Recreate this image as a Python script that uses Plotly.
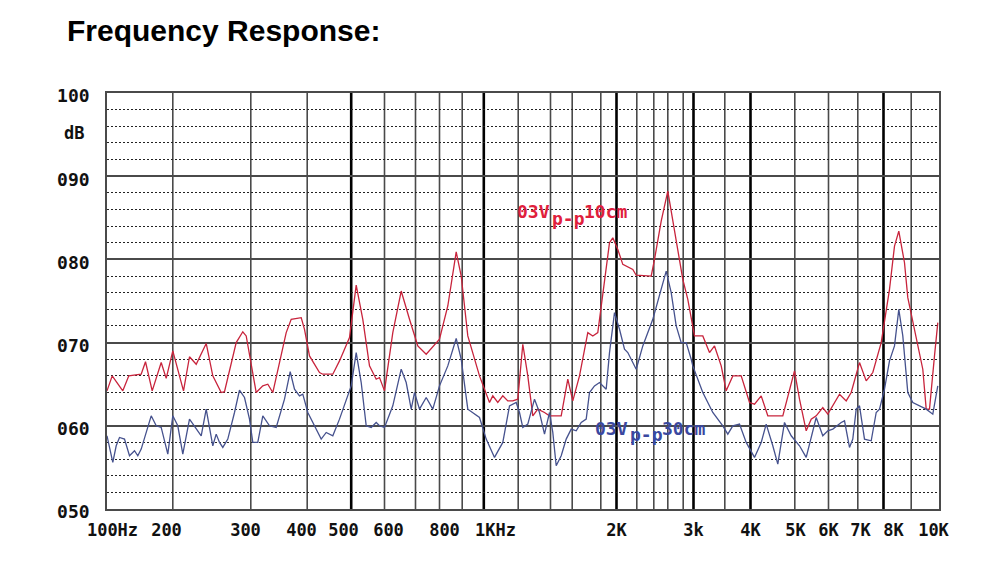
import plotly.graph_objects as go

# ---------------- data ----------------
# x positions are in the chart's own (non-uniform) frequency-scale units: 0 = 100 Hz edge, 832 = 10 kHz edge
title_text = "Frequency Response:"

y_tick_vals = [50, 60, 70, 80, 90, 100]
y_tick_text = ["050", "060", "070", "080", "090", "100"]

x_label_pos = [5.5, 59.5, 138.5, 194.5, 236.5, 281.5, 337.5, 388.5,
               509.5, 586.5, 643.5, 688.5, 721.5, 753.5, 786.5, 826.5]
x_label_text = ["100Hz", "200", "300", "400", "500", "600", "800", "1KHz",
                "2K", "3k", "4K", "5K", "6K", "7K", "8K", "10K"]

grid_thin = [65.8, 143.8, 200.2, 277.5, 308.5, 332.5, 355.2, 411.2, 443.5,
             465.2, 493.8, 529.8, 546.8, 560.8, 576.2, 617.8, 687.8, 721.5,
             750.8, 804.2]
grid_thick = [244.2, 376.8, 509.5, 586.5, 643.5, 776.5]

red_name = "03Vp-p 10cm"
red_x = [0, 5.2, 15.8, 21.8, 34.2, 38.5, 45.2, 54.2, 59.2, 65.8, 76.5, 82.5, 89.2,
         99.2, 105.8, 114.2, 117.5, 129.2, 135.8, 139.2, 149.2, 155.8, 160.8, 165.8,
         179.2, 184.2, 194.2, 197.5, 202.5, 212.5, 215.8, 225.8, 232.5, 242.5, 249.2,
         255.8, 262.5, 269.2, 272.5, 277.5, 285.8, 294.2, 302.5, 310.8, 319.2, 332.5,
         340.8, 349.2, 354.2, 360.8, 372.5, 379.2, 382.5, 385.8, 390.8, 395.8, 400.8,
         405.8, 410.8, 415.8, 420.8, 425.8, 430.8, 437.5, 442.5, 454.2, 460.8, 465.8,
         472.5, 480.8, 485.8, 490.8, 495.8, 502.5, 505.8, 510.8, 515.8, 525.8, 529.2,
         544.2, 547.5, 554.2, 560.8, 567.5, 569.2, 575.8, 580.8, 585.8, 587.5, 595.8,
         602.5, 607.5, 614.2, 619.2, 625.8, 634.2, 642.5, 647.5, 654.2, 660.8, 675.8,
         687.5, 692.5, 699.2, 704.2, 709.2, 715.8, 720.8, 725.8, 732.5, 739.2, 744.2,
         752.5, 759.2, 765.8, 774.2, 782.5, 787.5, 791.8, 797.5, 800.8, 809.2, 815.8,
         819.2, 822.5, 827.5, 830.8]
red_y = [64.2, 66, 64.2, 66, 66.2, 67.7, 64.2, 67.6, 65.7, 69, 64.2, 68.3, 67.4,
         69.9, 66, 64, 64.1, 70, 71.3, 70.8, 64, 64.8, 65, 64,
         71.2, 72.8, 73, 71.6, 68.4, 66.4, 66.2, 66.2, 67.8, 70.6, 76.9,
         72.8, 67.2, 65.6, 65.8, 64.2, 71.2, 76.2, 72.8, 69.6, 68.6, 70.4,
         74.4, 80.9, 78, 70.8, 66, 64, 62.8, 63.6, 62.8, 63.6, 63,
         63, 63.2, 69.8, 66, 61.2, 62, 61.6, 61.2, 61.2, 65.6, 63,
         66, 71.2, 70.8, 71.2, 76, 82, 82.6, 81.2, 79.4, 78.8, 78.1,
         78, 80, 84.6, 88.2, 83.6, 82.2, 77.6, 75.2, 72, 70.8, 70.8,
         68.8, 69.6, 67.2, 64.2, 66, 66, 62.8, 62.6, 63.6, 61.2, 61.2,
         66.6, 63.2, 59.4, 60.8, 61.2, 62.2, 61.4, 62.4, 63.8, 63, 64,
         67.6, 65.4, 66.4, 70, 76.4, 81.6, 83.4, 79.6, 75.4, 70.8, 66.8,
         62, 62, 68.4, 72.4]

blue_name = "03Vp-p 30cm"
blue_x = [0, 5.8, 9.2, 12.5, 17.5, 22.5, 27.5, 30.8, 34.2, 44.2, 49.2, 54.2, 60.8,
          65.8, 70.8, 75.8, 82.5, 89.2, 94.2, 99.2, 105.8, 109.2, 112.5, 115.8, 120.8,
          127.5, 132.5, 137.5, 142.5, 145.8, 150.8, 155.8, 162.5, 169.2, 177.5, 183.2,
          187.5, 192.5, 195.8, 200.8, 209.2, 214.2, 219.2, 225.8, 232.5, 240.8, 244.2,
          249.2, 254.2, 259.2, 264.2, 269.2, 272.5, 277.5, 285.8, 294.2, 299.2, 304.2,
          307.5, 312.5, 319.2, 325.8, 332.5, 340.8, 349.2, 354.2, 360.8, 372.5, 379.2,
          387.5, 395.8, 402.5, 409.2, 412.5, 415.8, 420.8, 427.5, 432.5, 437.5, 442.5,
          445.8, 449.2, 454.2, 459.2, 464.2, 469.2, 474.2, 479.2, 482.5, 487.5, 492.5,
          499.2, 502.5, 507.5, 512.5, 517.5, 520.8, 529.2, 535.8, 545.8, 552.5, 559.2,
          564.2, 569.2, 574.2, 579.2, 584.2, 585.8, 595.8, 605.8, 615.8, 620.8, 625.8,
          632.5, 639.2, 647.5, 654.2, 659.2, 665.8, 670.8, 677.5, 684.2, 692.5, 699.2,
          709.2, 715.8, 720.8, 725.8, 734.2, 737.5, 742.5, 745.8, 749.2, 752.5, 757.5,
          764.2, 769.2, 772.5, 777.5, 782.5, 787.5, 791.8, 795.8, 800.8, 805.8, 812.5,
          819.2, 825.8, 830.8]
blue_y = [58.8, 55.6, 57.6, 58.6, 58.4, 56.4, 57, 56.4, 57.2, 61.2, 60, 59.8, 56.6,
          61.2, 60, 56.6, 60.8, 59.6, 58.8, 62, 57.6, 59, 58, 57.4, 58.4,
          61.6, 64.3, 63.4, 60.8, 58, 58, 61.2, 60, 59.8, 63.2, 66.5,
          64.4, 63.6, 63.8, 61.6, 59.6, 58.4, 59.2, 58.8, 60.8, 63.6, 64.8,
          68.8, 65.2, 60, 59.8, 60.4, 60, 59.8, 62.4, 66.8, 65.2, 62,
          64, 62, 63.4, 62, 64.8, 67.2, 70.5, 68, 62, 61, 58.4,
          56.2, 58, 62.4, 62.8, 61.6, 59.8, 60.2, 63.2, 61.6, 59, 61.6,
          59.2, 55.2, 56.4, 58.4, 59.6, 59.4, 60.4, 60.8, 64, 64.8, 65.2,
          64.4, 68.8, 73.6, 71.6, 69.2, 68.8, 66.8, 69.6, 72.8, 75.6, 78.6,
          76, 72, 70, 70, 68, 67.2, 64, 61.6, 60, 59, 60,
          60.2, 58, 56.2, 58, 60.2, 57.6, 55.4, 60.4, 58.8, 57.6, 56.2,
          61, 58.8, 59.4, 59.6, 60.4, 60.6, 57.4, 58.4, 62, 62.4, 58.4,
          58.2, 61.6, 62, 64.4, 67.8, 69.6, 74, 70.8, 64, 62.8, 62.4,
          62, 61.4, 64.8]

# curve labels: (text piece, x, y)
red_label = [("03V", 407.5, 85.75), ("p-p", 442.5, 84.95), ("10cm", 475.0, 85.75)]
blue_label = [("03V", 485.5, 59.7), ("p-p", 520.5, 58.9), ("30cm", 553.0, 59.7)]

# ---------------- style ----------------
RED = "#c8243c"
BLUE = "#46528e"
RED_TXT = "#e0203c"
BLUE_TXT = "#3a48a0"
MONO = "DejaVu Sans Mono"

fig = go.Figure()

fig.add_trace(go.Scatter(x=red_x, y=red_y, mode="lines", name=red_name,
                         line=dict(color=RED, width=1.3), showlegend=False))
fig.add_trace(go.Scatter(x=blue_x, y=blue_y, mode="lines", name=blue_name,
                         line=dict(color=BLUE, width=1.3), showlegend=False))

shapes = []
for gx in grid_thin:
    shapes.append(dict(type="line", xref="x", yref="paper", x0=gx, x1=gx, y0=0, y1=1,
                       line=dict(color="#4a4a4a", width=1.6), layer="below"))
for gx in grid_thick:
    shapes.append(dict(type="line", xref="x", yref="paper", x0=gx, x1=gx, y0=0, y1=1,
                       line=dict(color="#000000", width=2.6), layer="below"))

annotations = []
for txt, ax, ay in red_label:
    annotations.append(dict(text=txt, x=ax, y=ay, xref="x", yref="y", showarrow=False,
                            xanchor="left", yanchor="middle",
                            font=dict(family=MONO, size=18, color=RED_TXT, weight="bold")))
for txt, ax, ay in blue_label:
    annotations.append(dict(text=txt, x=ax, y=ay, xref="x", yref="y", showarrow=False,
                            xanchor="left", yanchor="middle",
                            font=dict(family=MONO, size=18, color=BLUE_TXT, weight="bold")))
annotations.append(dict(text="dB", x=0, y=95.2, xref="paper", yref="y", showarrow=False,
                        xanchor="left", yanchor="middle", xshift=-45,
                        font=dict(family=MONO, size=17, color="#111", weight="bold")))

fig.update_layout(
    width=1000, height=569,
    margin=dict(l=107, r=61, t=93, b=60),
    paper_bgcolor="white", plot_bgcolor="white",
    title=dict(text=title_text, x=0.067, xref="container", xanchor="left",
               y=1 - 30 / 569, yref="container", yanchor="middle",
               font=dict(family="Liberation Sans", size=30, color="black", weight="bold")),
    shapes=shapes,
    annotations=annotations,
)

fig.update_xaxes(range=[0, 832], showgrid=False, zeroline=False,
                 tickmode="array", tickvals=x_label_pos, ticktext=x_label_text,
                 ticks="", ticklabelstandoff=5,
                 tickfont=dict(family=MONO, size=17, color="#111", weight="bold"),
                 showline=True, mirror=True, linecolor="#4a4a4a", linewidth=1.6)
fig.update_yaxes(range=[50, 100], zeroline=False,
                 tickmode="array", tickvals=y_tick_vals, ticktext=y_tick_text,
                 ticks="", ticklabelstandoff=12, ticklabelshift=3,
                 tickfont=dict(family=MONO, size=18, color="#111", weight="bold"),
                 showgrid=True, gridcolor="#4a4a4a", gridwidth=1.6,
                 minor=dict(dtick=2, tick0=50, showgrid=True, gridcolor="#222",
                            gridwidth=1, griddash="2px,2px"),
                 showline=True, mirror=True, linecolor="#4a4a4a", linewidth=1.6)

fig.write_html("out.html")
